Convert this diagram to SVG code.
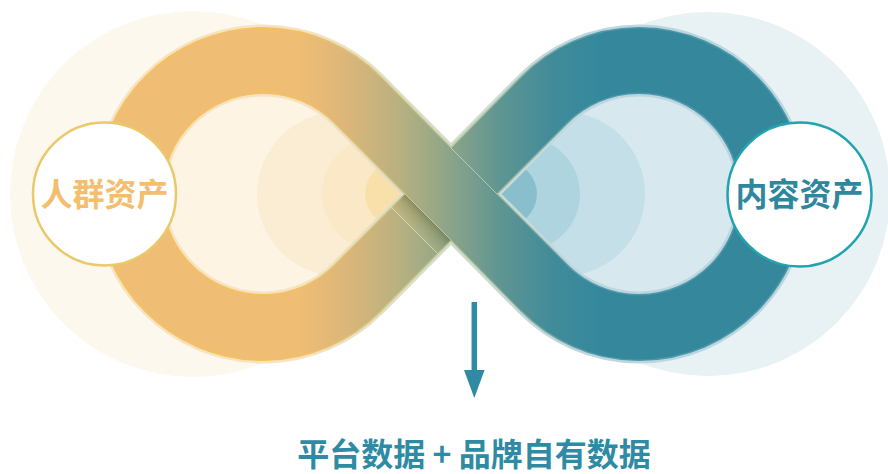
<svg xmlns="http://www.w3.org/2000/svg" width="888" height="474" viewBox="0 0 888 474">
  <style>
    .label { font-family: "Noto Sans CJK SC", "Noto Sans", sans-serif; font-weight: 700; }
    .node-ring { fill: #FFFFFF; stroke-width: 2.5; }
    .band { fill: none; stroke-linejoin: round; }
    .seam { stroke: #FFFFFF; stroke-opacity: 0.45; stroke-width: 1; fill: none; }
  </style>
  <defs>
    <!-- horizontal colour run of the loop band: amber on the left, teal on the right -->
    <linearGradient id="bandGrad" gradientUnits="userSpaceOnUse" x1="300" y1="0" x2="600" y2="0">
      <stop offset="0" stop-color="#EFBD74"/>
      <stop offset="0.15" stop-color="#DDB679"/>
      <stop offset="0.33" stop-color="#B8B180"/>
      <stop offset="0.5" stop-color="#8CA489"/>
      <stop offset="0.67" stop-color="#5E9592"/>
      <stop offset="0.85" stop-color="#3F8B9A"/>
      <stop offset="1" stop-color="#35889C"/>
    </linearGradient>
    <!-- pale halo round the band -->
    <linearGradient id="haloGrad" gradientUnits="userSpaceOnUse" x1="300" y1="0" x2="600" y2="0">
      <stop offset="0" stop-color="#F6E3C2"/>
      <stop offset="0.5" stop-color="#D3DCCB"/>
      <stop offset="1" stop-color="#BBD6DF"/>
    </linearGradient>
    <!-- thin bright edge line of the band -->
    <linearGradient id="edgeGrad" gradientUnits="userSpaceOnUse" x1="300" y1="0" x2="600" y2="0">
      <stop offset="0" stop-color="#F5C25E"/>
      <stop offset="0.5" stop-color="#B9C79A"/>
      <stop offset="1" stop-color="#4C97AB"/>
    </linearGradient>
    <!-- shade where the rising strand passes under the falling one -->
    <linearGradient id="underShade" gradientUnits="userSpaceOnUse" x1="428" y1="217" x2="414.4" y2="230.6">
      <stop offset="0" stop-color="#4E4E20" stop-opacity="0.38"/>
      <stop offset="0.45" stop-color="#7A7A38" stop-opacity="0.15"/>
      <stop offset="1" stop-color="#E8D890" stop-opacity="0.12"/>
    </linearGradient>
    <clipPath id="holeLeft">
      <path d="M405.2 194 L334.7 122.9 A101 101 0 1 0 334.7 265.1 Z"/>
    </clipPath>
    <clipPath id="holeRight">
      <path d="M496.8 194 L567.3 122.9 A101 101 0 1 1 567.3 265.1 Z"/>
    </clipPath>
  </defs>

  <!-- soft halos behind each lobe -->
  <circle cx="193" cy="194" r="183" fill="#FDF8EE"/>
  <circle cx="708" cy="194" r="182" fill="#E8F1F4"/>

  <!-- lobe interiors with ripples toward the crossing -->
  <g id="lobe-left-fill">
    <path d="M405.2 194 L334.7 122.9 A101 101 0 1 0 334.7 265.1 Z" fill="#FDF4E3"/>
    <g clip-path="url(#holeLeft)">
      <circle cx="339" cy="194" r="82" fill="#FBEDD4"/>
      <circle cx="379" cy="194" r="57" fill="#FAE8C6"/>
      <circle cx="397" cy="194" r="32" fill="#F9DFAA"/>
    </g>
  </g>
  <g id="lobe-right-fill">
    <path d="M496.8 194 L567.3 122.9 A101 101 0 1 1 567.3 265.1 Z" fill="#D7E8EE"/>
    <g clip-path="url(#holeRight)">
      <circle cx="563" cy="194" r="82" fill="#C4DFE8"/>
      <circle cx="523" cy="194" r="57" fill="#AED4E0"/>
      <circle cx="505" cy="194" r="32" fill="#89BFCD"/>
    </g>
  </g>

  <!-- the figure-eight band -->
  <g id="loop">
    <path class="band" d="M451 194 L357.8 100 A133.5 133.5 0 1 0 357.8 288 L451 194 L544.2 100 A133.5 133.5 0 1 1 544.2 288 Z"
          stroke="url(#haloGrad)" stroke-width="72"/>
    <path class="band" d="M451 194 L357.8 100 A133.5 133.5 0 1 0 357.8 288 L451 194 L544.2 100 A133.5 133.5 0 1 1 544.2 288 Z"
          stroke="url(#edgeGrad)" stroke-width="67"/>
    <path class="band" d="M451 194 L357.8 100 A133.5 133.5 0 1 0 357.8 288 L451 194 L544.2 100 A133.5 133.5 0 1 1 544.2 288 Z"
          stroke="url(#bandGrad)" stroke-width="64"/>
    <!-- under-pass shading on the rising strand -->
    <path d="M405 194 L451 240 L437.5 253.5 L391.5 207.5 Z" fill="url(#underShade)"/>
    <line class="seam" x1="391.5" y1="207.5" x2="437.5" y2="253.5"/>
    <!-- falling strand drawn over the crossing -->
    <path class="band" d="M357.8 100 L544.2 288" stroke="url(#bandGrad)" stroke-width="64"/>
    <line class="seam" x1="405" y1="194" x2="451" y2="240"/>
    <line class="seam" x1="451" y1="148" x2="497" y2="194"/>
  </g>

  <g id="node-crowd">
    <circle class="node-ring" cx="104.5" cy="194" r="71.5" stroke="#EBC86A"/>
    <text class="label" x="104.5" y="206" font-size="32" fill="#F3BE6E" text-anchor="middle">人群资产</text>
  </g>

  <g id="node-content">
    <circle class="node-ring" cx="799.5" cy="194.5" r="72" stroke="#22A3AE"/>
    <text class="label" x="799.5" y="206" font-size="32" fill="#2E879D" text-anchor="middle">内容资产</text>
  </g>

  <g id="connectors">
    <line x1="474.3" y1="302" x2="474.3" y2="372" stroke="#2E8BA3" stroke-width="5.5"/>
    <path d="M464 370 L484.6 370 L474.3 398 Z" fill="#2E8BA3"/>
  </g>

  <g id="node-output">
    <text class="label" x="474" y="466" font-size="32" fill="#2E8BA3" text-anchor="middle">平台数据 + 品牌自有数据</text>
  </g>
</svg>
